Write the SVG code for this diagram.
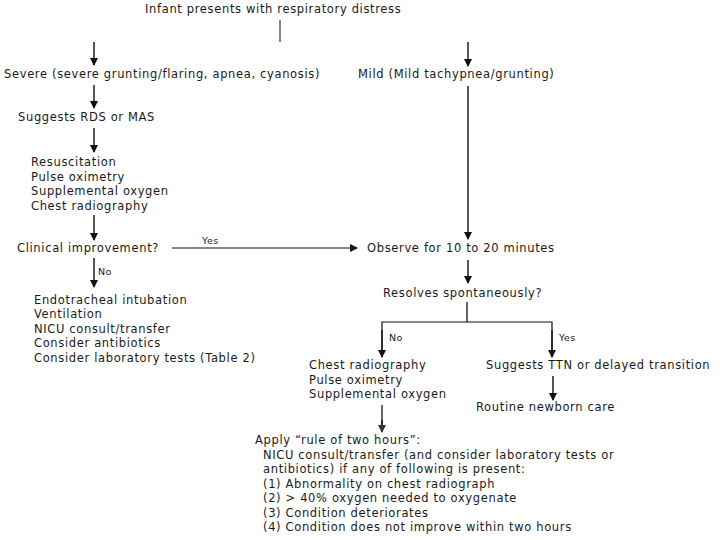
<svg xmlns="http://www.w3.org/2000/svg" width="720" height="540" viewBox="0 0 720 540">
<defs>
<marker id="ah" markerWidth="8" markerHeight="10" refX="7" refY="4" orient="auto" markerUnits="userSpaceOnUse">
<path d="M0,0 L8,4 L0,8 Z" fill="#111"/>
</marker>
<marker id="ahg" markerWidth="8" markerHeight="10" refX="7" refY="4" orient="auto" markerUnits="userSpaceOnUse">
<path d="M0,0 L8,4 L0,8 Z" fill="#333"/>
</marker>
</defs>
<style>
text{font-family:"DejaVu Sans","Liberation Sans",sans-serif;font-size:11.5px;letter-spacing:0.65px;fill:#1a1a1a}
.s{font-size:9.5px;letter-spacing:0.4px}
.l{stroke:#111;stroke-width:1.4;fill:none}
.g{stroke:#666;stroke-width:2;fill:none}
.a{marker-end:url(#ah)}
</style>
<rect width="720" height="540" fill="#fff"/>
<g id="connectors">
<line class="l" x1="280" y1="20" x2="280" y2="42" style="stroke-width:1"/>
<line class="l a" x1="94" y1="42" x2="94" y2="65"/>
<line class="l a" x1="468" y1="42" x2="468" y2="66"/>
<line class="l a" x1="94" y1="85" x2="94" y2="108"/>
<line class="l a" x1="94" y1="128" x2="94" y2="152"/>
<line class="l a" x1="468" y1="86" x2="468" y2="239"/>
<line class="l a" x1="94" y1="215" x2="94" y2="240"/>
<line class="l a" x1="172" y1="248" x2="357" y2="248" style="stroke-width:1"/>
<line class="l a" x1="94" y1="258" x2="94" y2="287"/>
<line class="l a" x1="468" y1="260" x2="468" y2="283"/>
<line class="g" x1="467" y1="302" x2="467" y2="322"/>
<polyline class="l" points="382,357 382,322 552,322 552,357" style="stroke-width:1.2"/>
<line class="l a" x1="382" y1="330" x2="382" y2="357"/>
<line class="l a" x1="552" y1="330" x2="552" y2="357"/>
<line class="l a" x1="553" y1="376" x2="553" y2="400"/>
<line class="g" x1="382" y1="405" x2="382" y2="426"/>
<line class="l" x1="382" y1="420" x2="382" y2="432" style="marker-end:url(#ahg)"/>
<text class="s" x="202" y="244">Yes</text>
<text class="s" x="98" y="275">No</text>
<text class="s" x="389" y="341">No</text>
<text class="s" x="559" y="341">Yes</text>
</g>
<g id="start"><text x="145" y="13">Infant presents with respiratory distress</text></g>
<g id="severe"><text x="4" y="78">Severe (severe grunting/flaring, apnea, cyanosis)</text></g>
<g id="mild"><text x="358" y="78">Mild (Mild tachypnea/grunting)</text></g>
<g id="rds"><text x="18" y="121">Suggests RDS or MAS</text></g>
<g id="resus">
<text x="31" y="166">Resuscitation</text>
<text x="31" y="181">Pulse oximetry</text>
<text x="31" y="195">Supplemental oxygen</text>
<text x="31" y="210">Chest radiography</text>
</g>
<g id="clinical"><text x="17" y="252">Clinical improvement?</text></g>
<g id="intubation">
<text x="34" y="304">Endotracheal intubation</text>
<text x="34" y="318">Ventilation</text>
<text x="34" y="333">NICU consult/transfer</text>
<text x="34" y="347">Consider antibiotics</text>
<text x="34" y="362">Consider laboratory tests (Table 2)</text>
</g>
<g id="observe"><text x="367" y="252">Observe for 10 to 20 minutes</text></g>
<g id="resolves"><text x="383" y="297">Resolves spontaneously?</text></g>
<g id="chest">
<text x="309" y="369">Chest radiography</text>
<text x="309" y="384">Pulse oximetry</text>
<text x="309" y="398">Supplemental oxygen</text>
</g>
<g id="ttn"><text x="486" y="369">Suggests TTN or delayed transition</text></g>
<g id="routine"><text x="476" y="411">Routine newborn care</text></g>
<g id="rule">
<text x="255" y="444">Apply “rule of two hours”:</text>
<text x="263" y="459">NICU consult/transfer (and consider laboratory tests or</text>
<text x="263" y="473">antibiotics) if any of following is present:</text>
<text x="263" y="488">(1) Abnormality on chest radiograph</text>
<text x="263" y="502">(2) &gt; 40% oxygen needed to oxygenate</text>
<text x="263" y="517">(3) Condition deteriorates</text>
<text x="263" y="531">(4) Condition does not improve within two hours</text>
</g>
</svg>
